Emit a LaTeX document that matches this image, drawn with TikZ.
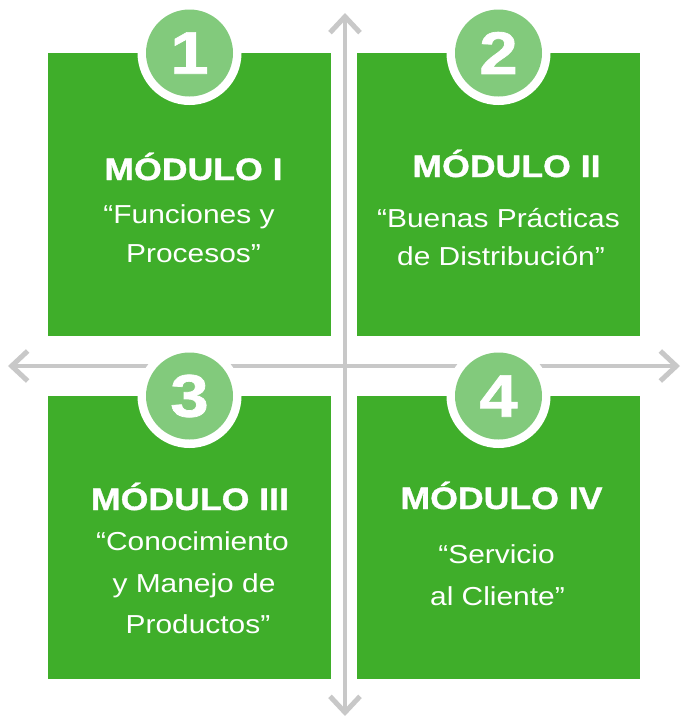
\documentclass[tikz,border=0pt]{standalone}
\usepackage{fontspec}
\setmainfont{Liberation Sans}[FakeStretch=1.15]
\newfontfamily\heavyfont{Liberation Sans Bold}[FakeStretch=1.15, FakeBold=1.2]
\usetikzlibrary{arrows.meta}
\definecolor{boxgreen}{HTML}{3FAE2A}
\definecolor{circgreen}{HTML}{82CA7C}
\definecolor{axisgray}{HTML}{C8C8C8}
\begin{document}
\begin{tikzpicture}[x=1pt,y=-1pt,
  modbox/.style={fill=boxgreen, draw=none, minimum width=283pt, minimum height=283pt, inner sep=0pt, anchor=north west},
  ring/.style={circle, fill=white, minimum size=104pt, inner sep=0pt},
  badge/.style={circle, fill=circgreen, minimum size=87pt, inner sep=0pt, text=white, font=\fontsize{60}{60}\selectfont\heavyfont},
  title/.style={anchor=base, text=white, font=\fontsize{31}{31}\selectfont\heavyfont, inner sep=0pt},
  body/.style={anchor=base, text=white, font=\fontsize{26}{26}\selectfont, inner sep=0pt},
  axis/.style={draw=axisgray, line width=4pt, arrows={Straight Barb[length=16pt,width=30pt,line width=5pt]-Straight Barb[length=16pt,width=30pt,line width=5pt]}}
]
\useasboundingbox (0,0) rectangle (681,716);
% axes
\coordinate (vtop) at (345,13);
\coordinate (vbot) at (345,716);
\coordinate (hleft) at (8,366);
\coordinate (hright) at (680,366);
\draw[axis] (vtop) -- (vbot);
\draw[axis] (hleft) -- (hright);
% boxes
\node[modbox] (box1) at (48,53) {};
\node[modbox] (box2) at (357,53) {};
\node[modbox] (box3) at (48,396) {};
\node[modbox] (box4) at (357,396) {};
% badges
\node[ring] (ring1) at (189.5,53) {};
\node[ring] (ring2) at (498.5,53) {};
\node[ring] (ring3) at (189.5,396) {};
\node[ring] (ring4) at (498.5,396) {};
\node[badge] (num1) at (ring1) {1};
\node[badge] (num2) at (ring2) {2};
\node[badge] (num3) at (ring3) {3};
\node[badge] (num4) at (ring4) {4};
% texts box 1
\node[title] (t1) at (193.5,180) {MÓDULO I};
\node[body] (t1a) at (189,223) {“Funciones y};
\node[body] (t1b) at (193.5,262) {Procesos”};
% texts box 2
\node[title] (t2) at (506.5,177) {MÓDULO II};
\node[body] (t2a) at (498.5,227) {“Buenas Prácticas};
\node[body] (t2b) at (501,265) {de Distribución”};
% texts box 3
\node[title] (t3) at (190,510) {MÓDULO III};
\node[body] (t3a) at (192.5,550) {“Conocimiento};
\node[body] (t3b) at (194,592) {y Manejo de};
\node[body] (t3c) at (198,633) {Productos”};
% texts box 4
\node[title] (t4) at (501.5,509) {MÓDULO IV};
\node[body] (t4a) at (496.5,563) {“Servicio};
\node[body] (t4b) at (497.5,605) {al Cliente”};
\end{tikzpicture}
\end{document}
